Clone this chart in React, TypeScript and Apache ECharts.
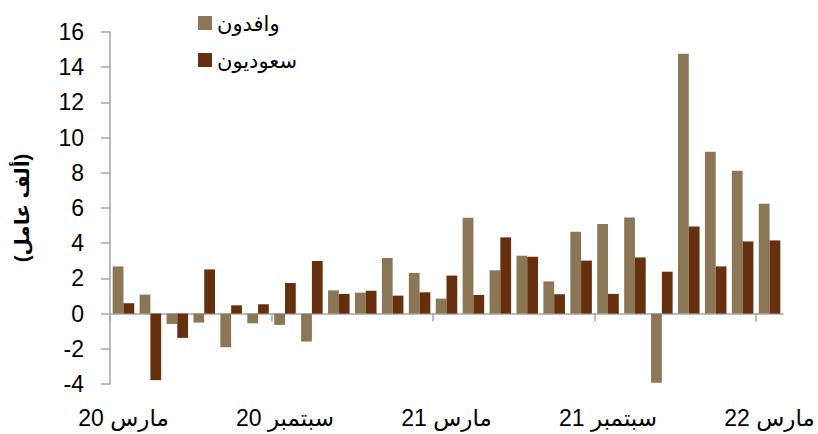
import React, { useEffect, useRef } from "react";
import * as echarts from "echarts";

const months = [
  "مارس 20", "أبريل 20", "مايو 20", "يونيو 20", "يوليو 20", "أغسطس 20",
  "سبتمبر 20", "أكتوبر 20", "نوفمبر 20", "ديسمبر 20", "يناير 21", "فبراير 21",
  "مارس 21", "أبريل 21", "مايو 21", "يونيو 21", "يوليو 21", "أغسطس 21",
  "سبتمبر 21", "أكتوبر 21", "نوفمبر 21", "ديسمبر 21", "يناير 22", "فبراير 22",
  "مارس 22",
];

const expats = [
  2.68, 1.08, -0.59, -0.51, -1.91, -0.55, -0.64, -1.59, 1.32, 1.19, 3.16, 2.31,
  0.85, 5.44, 2.46, 3.29, 1.83, 4.65, 5.09, 5.46, -3.93, 14.76, 9.2, 8.11, 6.24,
];

const saudis = [
  0.59, -3.78, -1.38, 2.51, 0.47, 0.53, 1.74, 2.99, 1.12, 1.3, 1.02, 1.21,
  2.16, 1.06, 4.33, 3.23, 1.1, 3.01, 1.12, 3.19, 2.38, 4.95, 2.68, 4.1, 4.16,
];

// Major tick positions (category boundaries every 6 months)
const majorTickIndices = [0, 6, 12, 18, 24];

const seriesNames = ["وافدون", "سعوديون"];
const yAxisTitle = "(ألف عامل)";

const FONT = "'Liberation Sans', Arial, 'DejaVu Sans', sans-serif";
const AXIS_GRAY = "#a6a6a6";

export default function App() {
  const ref = useRef<HTMLDivElement>(null);

  useEffect(() => {
    if (!ref.current) return;
    const chart = echarts.init(ref.current, undefined, { renderer: "svg" });
    chart.setOption({
      animation: false,
      backgroundColor: "#ffffff",
      textStyle: { fontFamily: FONT },
      grid: { left: 110, right: 35, top: 32, bottom: 50, containLabel: false },
      legend: {
        orient: "vertical",
        left: 193,
        top: 7,
        itemWidth: 14,
        itemHeight: 14,
        itemGap: 15,
        icon: "rect",
        textStyle: { fontSize: 21, color: "#000", fontFamily: FONT, lineHeight: 22 },
        data: seriesNames,
      },
      xAxis: [
        {
          type: "category",
          data: months,
          position: "bottom",
          axisLine: { show: false, onZero: false },
          axisTick: { show: false },
          splitLine: { show: false },
          axisLabel: {
            interval: 5,
            fontSize: 23,
            color: "#000",
            margin: 22,
            fontFamily: FONT,
          },
        },
        {
          type: "value",
          min: 0,
          max: months.length,
          position: "bottom",
          axisLine: { show: true, onZero: true, lineStyle: { color: AXIS_GRAY, width: 1.5 } },
          axisTick: {
            show: true,
            customValues: majorTickIndices,
            length: 8,
            lineStyle: { color: AXIS_GRAY, width: 1.5 },
          },
          axisLabel: { show: false },
          splitLine: { show: false },
        },
      ],
      yAxis: {
        type: "value",
        min: -4,
        max: 16,
        interval: 2,
        name: yAxisTitle,
        nameLocation: "middle",
        nameRotate: 90,
        nameGap: 78,
        nameTextStyle: { fontSize: 20, fontWeight: "bold", color: "#000", fontFamily: FONT },
        axisLine: { show: true, lineStyle: { color: AXIS_GRAY, width: 1.5 } },
        axisTick: { show: true, length: 9, lineStyle: { color: AXIS_GRAY, width: 1.5 } },
        splitLine: { show: false },
        axisLabel: { fontSize: 23, color: "#000", margin: 26, fontFamily: FONT },
      },
      series: [
        {
          name: seriesNames[0],
          type: "bar",
          data: expats,
          xAxisIndex: 0,
          barWidth: "40%",
          barGap: "0%",
          itemStyle: { color: "#8b7755" },
        },
        {
          name: seriesNames[1],
          type: "bar",
          data: saudis,
          xAxisIndex: 0,
          barWidth: "40%",
          barGap: "0%",
          itemStyle: { color: "#662f0d" },
        },
      ],
    });
    return () => chart.dispose();
  }, []);

  return (
    <div
      ref={ref}
      style={{ position: "fixed", left: 0, top: 0, width: 818, height: 434 }}
    />
  );
}
